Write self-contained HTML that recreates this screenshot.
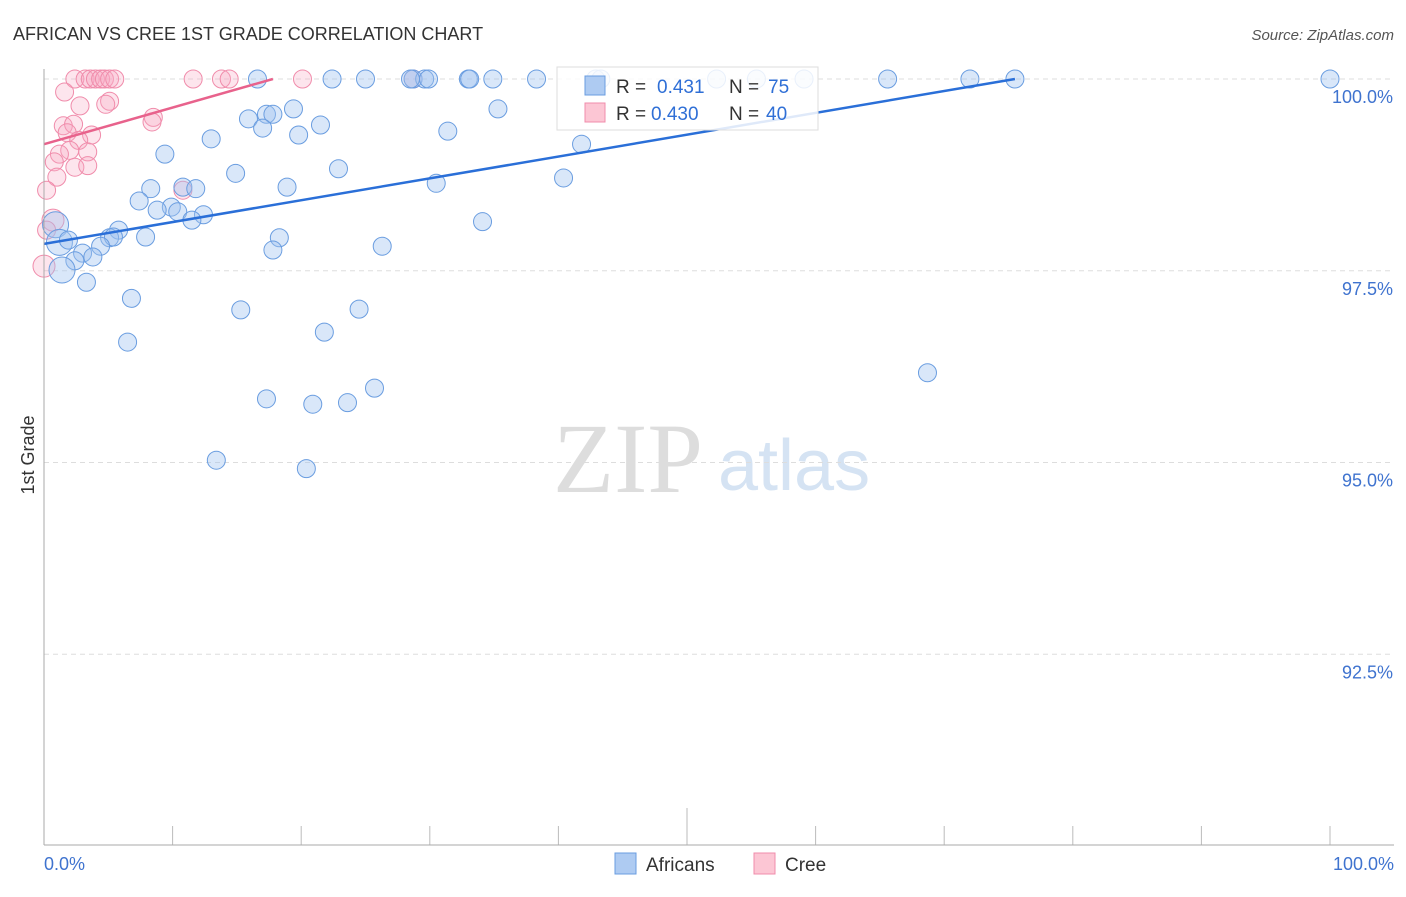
<!DOCTYPE html>
<html><head><meta charset="utf-8"><style>
body{margin:0;background:#fff;font-family:"Liberation Sans",sans-serif;}
</style></head><body>
<svg id="c" width="1406" height="892" xmlns="http://www.w3.org/2000/svg" font-family="Liberation Sans, sans-serif">
<text x="13" y="40" font-size="18" fill="#333">AFRICAN VS CREE 1ST GRADE CORRELATION CHART</text>
<text x="1394" y="40" font-size="15" fill="#555" font-style="italic" text-anchor="end">Source: ZipAtlas.com</text>
<text x="34" y="455" font-size="18" fill="#333" transform="rotate(-90 34 455)" text-anchor="middle">1st Grade</text>
<text x="553" y="492" font-size="100" fill="#ddd" style="font-family:'Liberation Serif',serif">ZIP</text>
<text x="718" y="490" font-size="72" fill="#d5e3f3">atlas</text>
<g id="grid"></g><g id="ticks"></g><g id="pts"></g><g id="trend"></g>
<line x1="44" y1="69" x2="44" y2="845" stroke="#aaa"/>
<line x1="44" y1="845" x2="1394" y2="845" stroke="#aaa"/>
<g>
<rect x="557" y="67" width="261" height="63" fill="#fff" fill-opacity="0.85" stroke="#ddd"/>
<rect x="585" y="76" width="20" height="19" fill="#aecbf2" stroke="#6a9de0"/>
<rect x="585" y="103" width="20" height="19" fill="#fcc6d4" stroke="#f08cab"/>
<text x="616" y="93" font-size="19" fill="#333">R = </text><text x="657" y="93" font-size="19" fill="#2f6fd6">0.431</text>
<text x="729" y="93" font-size="19" fill="#333">N = </text><text x="768" y="93" font-size="19" fill="#2f6fd6">75</text>
<text x="616" y="120" font-size="19" fill="#333">R = </text><text x="651" y="120" font-size="19" fill="#2f6fd6">0.430</text>
<text x="729" y="120" font-size="19" fill="#333">N = </text><text x="766" y="120" font-size="19" fill="#2f6fd6">40</text>
</g>
<text x="44" y="870" font-size="18" fill="#3f73cf">0.0%</text>
<text x="1394" y="870" font-size="18" fill="#3f73cf" text-anchor="end">100.0%</text>
<g><rect x="615" y="853" width="21" height="21" fill="#aecbf2" stroke="#6a9de0"/><text x="646" y="871" font-size="19" fill="#333">Africans</text></g>
<g><rect x="754" y="853" width="21" height="21" fill="#fcc6d4" stroke="#f08cab"/><text x="785" y="871" font-size="19" fill="#333">Cree</text></g>
</svg>
<script>
const yTicks=[100,97.5,95,92.5];
const yTickLabels=["100.0%","97.5%","95.0%","92.5%"];
const xTicks=[0,10,20,30,40,50,60,70,80,90,100];
const africanX=[16.6,22.4,25.0,28.7,29.6,33.0,34.9,38.3,42.9,43.3,52.3,55.4,59.1,65.6,72.0,75.5,100,33.1,29.9,28.5,17.3,17.8,19.4,35.3,15.9,17.0,21.5,19.8,31.4,13.0,41.8,9.4,22.9,14.9,30.5,40.4,8.3,10.8,11.8,18.9,7.4,9.9,8.8,10.4,12.4,11.5,34.1,0.9,1.2,1.9,5.8,5.1,5.4,7.9,18.3,4.4,26.3,17.8,3.0,3.8,2.4,1.4,3.3,6.8,15.3,24.5,21.8,6.5,68.7,25.7,17.3,20.9,23.6,13.4,20.4];
const africanY=[100,100,100,100,100,100,100,100,100,100,100,100,100,100,100,100,100,100,100,100,99.54,99.54,99.61,99.61,99.48,99.36,99.40,99.27,99.32,99.22,99.15,99.02,98.83,98.77,98.64,98.71,98.57,98.59,98.57,98.59,98.41,98.33,98.29,98.27,98.23,98.16,98.14,98.10,97.87,97.90,98.03,97.93,97.94,97.94,97.93,97.82,97.82,97.77,97.73,97.68,97.63,97.51,97.35,97.14,96.99,97.00,96.70,96.57,96.17,95.97,95.83,95.76,95.78,95.03,94.92];
const africanBig=[47,48,61];
const creeX=[2.4,3.2,3.6,4.0,4.4,4.7,5.1,5.5,11.6,13.8,14.4,20.1,28.7,1.6,2.8,5.1,4.8,8.5,8.4,1.5,2.3,1.8,3.7,2.7,2.0,1.2,0.8,3.4,2.4,3.4,1.0,0.2,0.7,0.2,10.8,0];
const creeY=[100,100,100,100,100,100,100,100,100,100,100,100,100,99.83,99.65,99.71,99.67,99.50,99.44,99.39,99.41,99.30,99.27,99.20,99.07,99.02,98.92,99.05,98.85,98.87,98.72,98.55,98.16,98.03,98.55,97.56];
const creeBig=[32,35];
const africanTrendX=[0,75.5], africanTrendY=[97.85,100];
const creeTrendX=[0,17.8], creeTrendY=[99.15,100];

const NS="http://www.w3.org/2000/svg";
const sx=v=>44+v*12.86;
const sy=v=>79+(100-v)*76.7;
function mk(tag,attrs,parent){const e=document.createElementNS(NS,tag);for(const k in attrs)e.setAttribute(k,attrs[k]);document.getElementById(parent).appendChild(e);return e;}
yTicks.forEach((t,i)=>{
  const l=mk('line',{x1:44,x2:1394,y1:sy(t),y2:sy(t),stroke:'#ddd','stroke-dasharray':'5,4'},'grid');
  
  
  const tx=mk('text',{x:1393,y:sy(t)+24,'font-size':18,fill:'#3f73cf','text-anchor':'end'},'grid');
  tx.textContent=yTickLabels[i];
  
  
});
xTicks.forEach(t=>{
  const l=mk('line',{x1:sx(t),x2:sx(t),y1:t===50?808:826,y2:845,stroke:'#bbb'},'ticks');
  
  
});
creeX.forEach((x,i)=>{
  const c=mk('circle',{cx:sx(x),cy:sy(creeY[i]),r:creeBig.includes(i)?11:9,fill:'rgba(248,170,195,0.3)',stroke:'#f08cab','stroke-width':1},'pts');
  
  
});
africanX.forEach((x,i)=>{
  const c=mk('circle',{cx:sx(x),cy:sy(africanY[i]),r:africanBig.includes(i)?13:9,fill:'rgba(160,196,240,0.4)',stroke:'#6a9de0','stroke-width':1},'pts');
  
  
});
const tb=mk('line',{x1:sx(africanTrendX[0]),y1:sy(africanTrendY[0]),x2:sx(africanTrendX[1]),y2:sy(africanTrendY[1]),stroke:'#2a6fd8','stroke-width':2.5},'trend');


const tp=mk('line',{x1:sx(creeTrendX[0]),y1:sy(creeTrendY[0]),x2:sx(creeTrendX[1]),y2:sy(creeTrendY[1]),stroke:'#e8628c','stroke-width':2.5},'trend');


</script>
</body></html>
